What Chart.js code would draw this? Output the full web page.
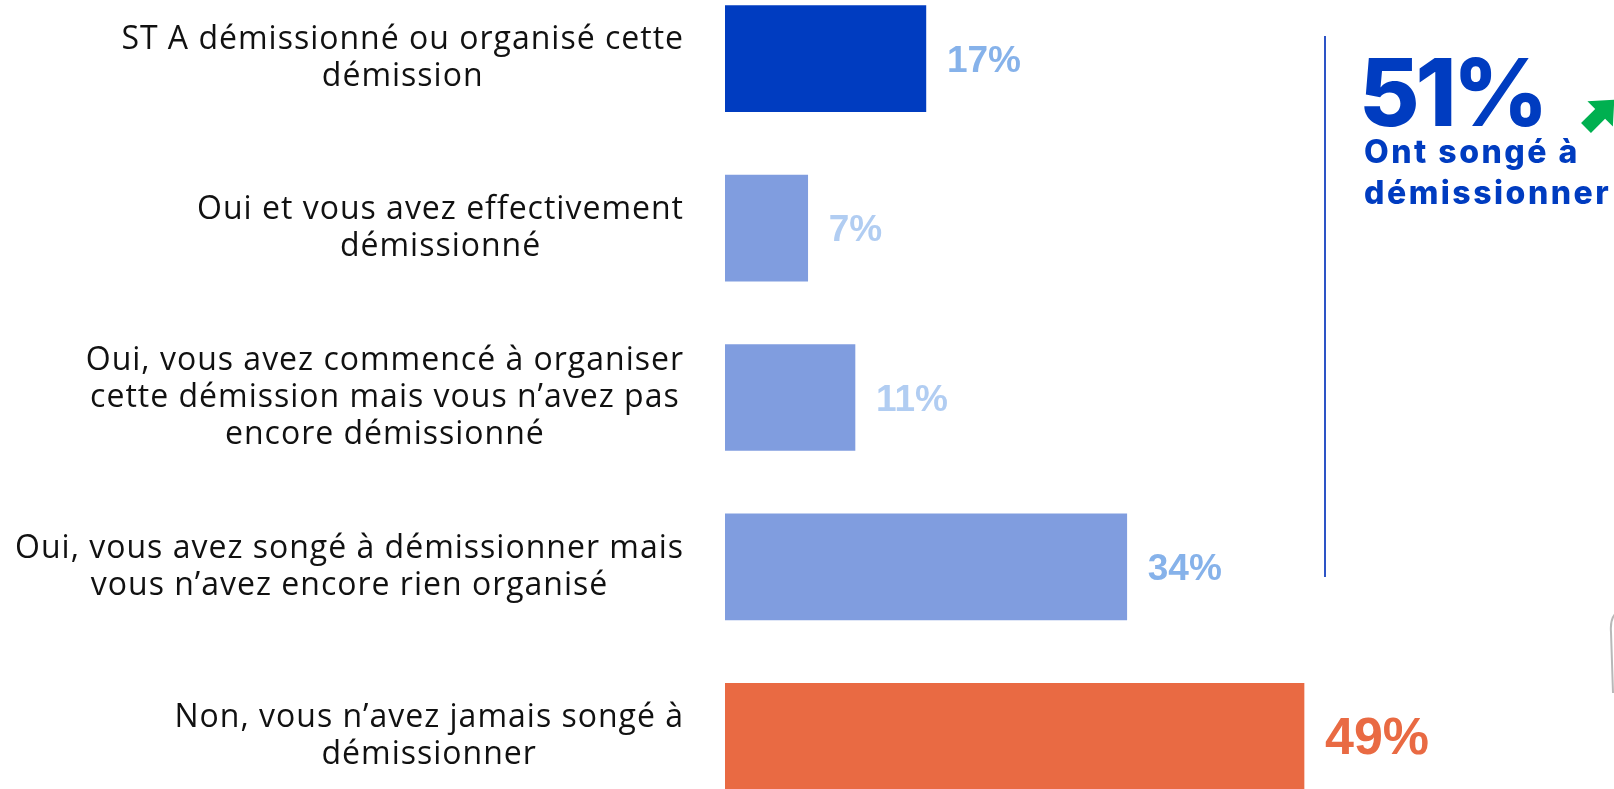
<!DOCTYPE html>
<html>
<head>
<meta charset="utf-8">
<script src="https://cdn.jsdelivr.net/npm/chart.js@4.4.1/dist/chart.umd.min.js"></script>
<style>
  html, body { margin: 0; padding: 0; background: #fff; overflow: hidden; }
  #wrap { position: absolute; left: 0; top: -26px; width: 1614px; height: 847px; }
</style>
</head>
<body>
<div id="wrap"><canvas id="resignChart"></canvas></div>
<script>
// Answers (left labels), one line per array entry
const categories = [
  ['ST A démissionné ou organisé cette', 'démission'],
  ['Oui et vous avez effectivement', 'démissionné'],
  ['Oui, vous avez commencé à organiser', 'cette démission mais vous n’avez pas', 'encore démissionné'],
  ['Oui, vous avez songé à démissionner mais', 'vous n’avez encore rien organisé'],
  ['Non, vous n’avez jamais songé à', 'démissionner']
];
const shares = [17, 7, 11, 34, 49];
const valueLabels = ['17%', '7%', '11%', '34%', '49%'];
const barColors = ['#003cc0', '#809ddf', '#809ddf', '#809ddf', '#e96a43'];
const valueColors = ['#86b2ea', '#b1cdf2', '#b1cdf2', '#86b2ea', '#e96a43'];
const totalLabel = '51%';
const totalText = ['Ont songé à', 'démissionner'];

const OFFSET = 26; // canvas sits 26px above the page top

const labelsPlugin = {
  id: 'labelsPlugin',
  afterDatasetsDraw(chart) {
    const ctx = chart.ctx;
    const yScale = chart.scales.y;
    const meta = chart.getDatasetMeta(0);
    ctx.save();

    // left category labels, centred lines, right edge at 684
    ctx.font = '400 32px "Open Sans"';
    ctx.letterSpacing = '1px';
    ctx.fillStyle = '#111';
    ctx.textAlign = 'center';
    ctx.textBaseline = 'middle';
    categories.forEach((lines, i) => {
      const yc = yScale.getPixelForTick(i);
      const w = Math.max(...lines.map(l => ctx.measureText(l).width));
      const xc = 684 - w / 2;
      const lh = 37;
      lines.forEach((l, j) => {
        ctx.fillText(l, xc, yc + (j - (lines.length - 1) / 2) * lh);
      });
    });
    ctx.letterSpacing = '0px';

    // value labels at bar ends
    meta.data.forEach((bar, i) => {
      const big = i === 4;
      ctx.font = big ? 'bold 52px "Liberation Sans"' : 'bold 37px "Liberation Sans"';
      ctx.fillStyle = valueColors[i];
      ctx.textAlign = 'left';
      ctx.fillText(valueLabels[i], bar.x + 21, bar.y + 3);
    });

    // bracket line + total
    ctx.strokeStyle = '#2d54c6';
    ctx.lineWidth = 2;
    ctx.beginPath();
    ctx.moveTo(1325, 36 + OFFSET);
    ctx.lineTo(1325, 577 + OFFSET);
    ctx.stroke();

    ctx.fillStyle = '#003cc0';
    ctx.textBaseline = 'alphabetic';
    ctx.font = '800 93px Inter';
    ctx.letterSpacing = '-4px';
    ctx.fillText(totalLabel, 1359, 126 + OFFSET);
    ctx.font = '800 32px Inter';
    ctx.letterSpacing = '2.5px';
    ctx.fillText(totalText[0], 1364, 163 + OFFSET);
    ctx.fillText(totalText[1], 1364, 204 + OFFSET);
    ctx.letterSpacing = '0px';

    // green arrow (up-right)
    ctx.translate(1586, 128 + OFFSET);
    ctx.rotate(-Math.PI / 4);
    ctx.fillStyle = '#00b050';
    ctx.beginPath();
    ctx.moveTo(0, -7);
    ctx.lineTo(20, -7);
    ctx.lineTo(20, -18);
    ctx.lineTo(40, 0);
    ctx.lineTo(20, 18);
    ctx.lineTo(20, 7);
    ctx.lineTo(0, 7);
    ctx.closePath();
    ctx.fill();
    ctx.setTransform(1, 0, 0, 1, 0, 0);

    // cropped grey shape at the right edge
    ctx.strokeStyle = '#b8b8b8';
    ctx.lineWidth = 2;
    ctx.beginPath();
    ctx.moveTo(1615, 614 + OFFSET);
    ctx.quadraticCurveTo(1610, 620 + OFFSET, 1611, 632 + OFFSET);
    ctx.lineTo(1613, 693 + OFFSET);
    ctx.stroke();

    ctx.restore();
  }
};

const chart = new Chart(document.getElementById('resignChart').getContext('2d'), {
  type: 'bar',
  data: {
    labels: categories,
    datasets: [{
      data: shares,
      backgroundColor: barColors,
      borderWidth: 0,
      barThickness: 106
    }]
  },
  options: {
    indexAxis: 'y',
    responsive: true,
    maintainAspectRatio: false,
    animation: false,
    layout: { padding: { left: 725, right: 180, top: 0, bottom: 0 } },
    plugins: {
      legend: { display: false },
      tooltip: { enabled: false }
    },
    scales: {
      x: { display: false, min: 0, max: 60 },
      y: { display: false, grid: { display: false } }
    }
  },
  plugins: [labelsPlugin]
});
</script>
</body>
</html>
